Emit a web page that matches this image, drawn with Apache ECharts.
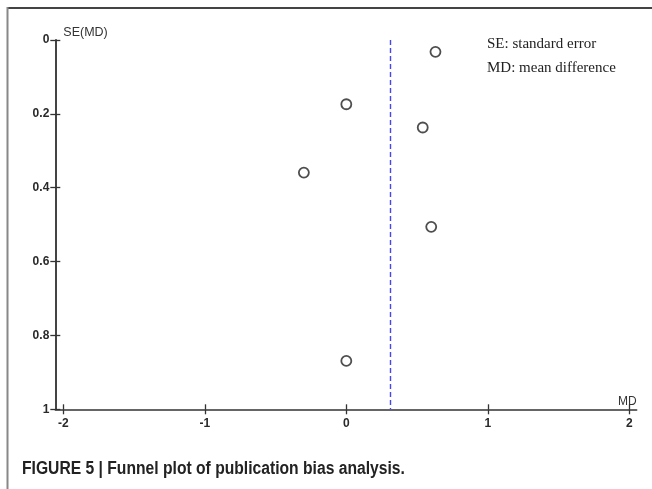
<!DOCTYPE html>
<html>
<head>
<meta charset="utf-8">
<script src="https://cdn.jsdelivr.net/npm/echarts@6/dist/echarts.min.js"></script>
<style>
  html, body { margin: 0; padding: 0; background: #fff; }
  #chart { width: 652px; height: 489px; }
</style>
</head>
<body>
<div id="chart"></div>
<script>
// ---- data ----
const studyMD = [0.63, 0.00, 0.54, -0.30, 0.60, 0.00];
const studySE = [0.032, 0.174, 0.237, 0.359, 0.506, 0.869];
const pooledMD = 0.31;
const xTickValues = [-2, -1, 0, 1, 2];
const yTickValues = [0, 0.2, 0.4, 0.6, 0.8, 1];
const noteLines = ['SE: standard error', 'MD: mean difference'];
const captionText = 'FIGURE 5 | Funnel plot of publication bias analysis.';
const xName = 'MD';
const yName = 'SE(MD)';

const points = studyMD.map((v, i) => [v, studySE[i]]);

const chart = echarts.init(document.getElementById('chart'), null, { renderer: 'canvas' });

const axisColor = '#333';
const labelFont = { fontFamily: 'Arial, Liberation Sans, sans-serif', fontWeight: 'bold', fontSize: 12, color: '#2a2a2a' };

const xBase = {
  type: 'value', min: -2.0565, max: 2.052, position: 'bottom',
  splitLine: { show: false }
};
const yBase = {
  type: 'value', min: 0, max: 1, interval: 0.2, inverse: true, position: 'left',
  splitLine: { show: false }
};

chart.setOption({
  animation: false,
  grid: { left: 55.3, right: 15.3, top: 40, bottom: 79.7, containLabel: false },
  xAxis: [
    Object.assign({}, xBase, {
      name: xName, nameLocation: 'end', nameGap: 0,
      nameTextStyle: { fontFamily: 'Arial, Liberation Sans, sans-serif', fontSize: 12, color: '#333', align: 'right', verticalAlign: 'bottom', padding: [0, 0, 2, 0] },
      axisLine: { show: true, onZero: false, lineStyle: { color: axisColor, width: 1.5 } },
      axisTick: { show: true, inside: false, length: 5, customValues: xTickValues, lineStyle: { color: axisColor, width: 1.3 } },
      axisLabel: Object.assign({ show: true, margin: 8, customValues: xTickValues, formatter: v => String(v) }, labelFont)
    }),
    Object.assign({}, xBase, {
      axisLine: { show: false, onZero: false },
      axisTick: { show: true, inside: true, length: 5, customValues: xTickValues, lineStyle: { color: axisColor, width: 1.3 } },
      axisLabel: { show: false }
    })
  ],
  yAxis: [
    Object.assign({}, yBase, {
      name: yName, nameLocation: 'start', nameGap: 7,
      nameTextStyle: { fontFamily: 'Arial, Liberation Sans, sans-serif', fontSize: 12.5, color: '#333', align: 'left', verticalAlign: 'middle', padding: [0, 0, 0, 8] },
      axisLine: { show: true, onZero: false, lineStyle: { color: '#444', width: 2 } },
      axisTick: { show: true, inside: false, length: 5, lineStyle: { color: axisColor, width: 1.3 } },
      axisLabel: Object.assign({ show: true, margin: 6, formatter: v => String(v) }, labelFont)
    }),
    Object.assign({}, yBase, {
      axisLine: { show: false, onZero: false },
      axisTick: { show: true, inside: true, length: 5, lineStyle: { color: axisColor, width: 1.3 } },
      axisLabel: { show: false }
    })
  ],
  series: [{
    type: 'scatter',
    xAxisIndex: 0, yAxisIndex: 0,
    data: points,
    symbol: 'circle',
    symbolSize: 10,
    itemStyle: { color: '#fff', borderColor: '#222', borderWidth: 1.8 },
    markLine: {
      silent: true,
      symbol: ['none', 'none'],
      label: { show: false },
      lineStyle: { color: '#4646ee', width: 1.4, type: [5, 3] },
      data: [[{ coord: [pooledMD, 0] }, { coord: [pooledMD, 1] }]]
    },
    z: 5
  }],
  graphic: [
    { type: 'line', shape: { x1: 7, y1: 8, x2: 652, y2: 8 }, style: { stroke: '#444', lineWidth: 2 } },
    { type: 'line', shape: { x1: 7.5, y1: 7, x2: 7.5, y2: 489 }, style: { stroke: '#888', lineWidth: 2 } },
    { type: 'text', left: 487, top: 37, style: { text: noteLines[0], font: '15px "Liberation Serif", "Times New Roman", serif', fill: '#222' } },
    { type: 'text', left: 487, top: 61, style: { text: noteLines[1], font: '15px "Liberation Serif", "Times New Roman", serif', fill: '#222' } },
    { type: 'text', x: 22, y: 460, scaleX: 0.87, style: { text: captionText, font: 'bold 18px "Liberation Sans", Arial, sans-serif', fill: '#222' } }
  ]
});
</script>
</body>
</html>
